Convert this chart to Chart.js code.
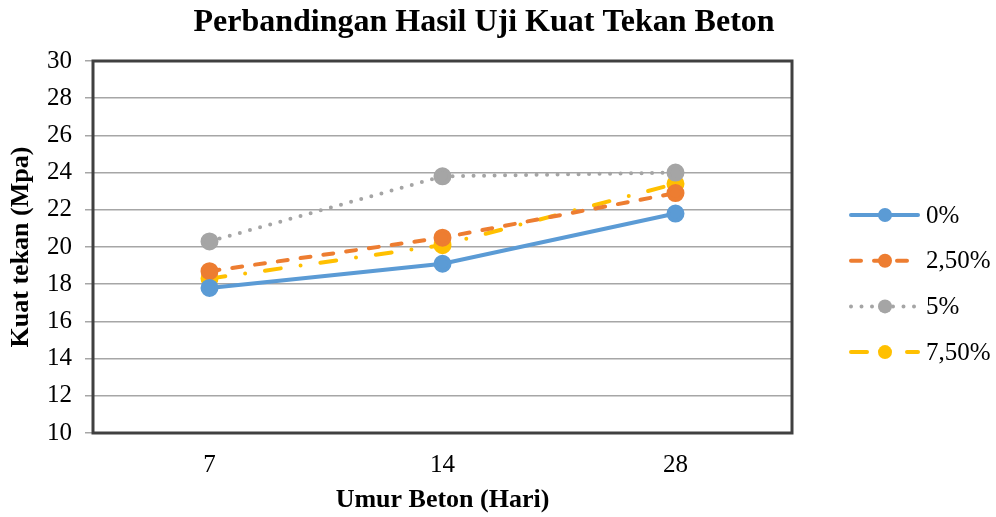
<!DOCTYPE html>
<html>
<head>
<meta charset="utf-8">
<script src="https://cdn.jsdelivr.net/npm/chart.js@4.4.0/dist/chart.umd.min.js"></script>
<style>
  html, body { margin: 0; padding: 0; background: #fff; }
  #wrap { width: 996px; height: 517px; }
</style>
</head>
<body>
<div id="wrap"><canvas id="chart" width="996" height="517"></canvas></div>
<script>
const umur = ["7", "14", "28"];
const seriesNames = ["0%", "2,50%", "5%", "7,50%"];
const kuat0 = [17.8, 19.1, 21.8];
const kuat25 = [18.7, 20.5, 22.9];
const kuat5 = [20.3, 23.8, 24.0];
const kuat75 = [18.3, 20.1, 23.4];
const yTicks = [10, 12, 14, 16, 18, 20, 22, 24, 26, 28, 30];

const serif = "'Liberation Serif', 'Times New Roman', serif";
const colors = ["#5b9bd5", "#ed7d31", "#a5a5a5", "#ffc000"];
const dashes = [[], [10, 13], [0, 10.5], [16, 20, 0, 20]];

function makeSet(label, data, i) {
    return {
        label,
        data,
        borderColor: colors[i],
        backgroundColor: colors[i],
        pointBackgroundColor: colors[i],
        pointBorderColor: colors[i],
        pointRadius: 7,
        pointHoverRadius: 7,
        borderWidth: 4,
        borderDash: dashes[i],
        borderCapStyle: "round",
        tension: 0
    };
}

// title, frame and legend drawn by hand
const decor = {
    id: "decor",
    afterDraw(chart) {
        const ctx = chart.ctx;
        const a = chart.chartArea;
        ctx.save();
        ctx.strokeStyle = "#404040";
        ctx.lineWidth = 3;
        ctx.strokeRect(a.left, a.top, a.right - a.left, a.bottom - a.top);

        ctx.fillStyle = "#000";
        ctx.font = "bold 32px " + serif;
        ctx.textAlign = "center";
        ctx.textBaseline = "middle";
        ctx.fillText("Perbandingan Hasil Uji Kuat Tekan Beton", 484, 23);

        chart.data.datasets.forEach((ds, i) => {
            const y = 215 + i * 45.7;
            ctx.strokeStyle = ds.borderColor;
            ctx.lineWidth = 4;
            ctx.lineCap = "round";
            ctx.setLineDash(ds.borderDash);
            ctx.beginPath();
            ctx.moveTo(851, y);
            ctx.lineTo(918, y);
            ctx.stroke();
            ctx.setLineDash([]);
            ctx.fillStyle = ds.borderColor;
            ctx.beginPath();
            ctx.arc(885, y, 7, 0, Math.PI * 2);
            ctx.fill();
            ctx.fillStyle = "#000";
            ctx.font = "25px " + serif;
            ctx.textAlign = "left";
            ctx.fillText(ds.label, 926, y + 1);
        });
        ctx.restore();
    }
};

new Chart(document.getElementById("chart"), {
    type: "line",
    data: {
        labels: umur,
        datasets: [
            makeSet(seriesNames[0], kuat0, 0),
            makeSet(seriesNames[1], kuat25, 1),
            makeSet(seriesNames[2], kuat5, 2),
            makeSet(seriesNames[3], kuat75, 3)
        ]
    },
    options: {
        responsive: false,
        animation: false,
        layout: { padding: { left: 0, right: 204, top: 61, bottom: 0 } },
        plugins: {
            legend: { display: false },
            title: { display: false },
            tooltip: { enabled: false }
        },
        scales: {
            x: {
                offset: true,
                grid: { display: false, drawTicks: false },
                border: { display: false },
                ticks: { color: "#000", font: { family: serif, size: 25 }, padding: 17 },
                title: {
                    display: true,
                    text: "Umur Beton (Hari)",
                    color: "#000",
                    font: { family: serif, size: 26, weight: "bold" },
                    padding: { top: 0, bottom: 1 }
                },
                afterFit(s) { s.height = 84; }
            },
            y: {
                min: 10,
                max: 30,
                afterBuildTicks(s) { s.ticks = yTicks.map(v => ({ value: v })); },
                grid: { color: "#a6a6a6", lineWidth: 1.5, tickLength: 8, tickColor: "#a6a6a6" },
                border: { display: false },
                ticks: { color: "#000", font: { family: serif, size: 25 }, padding: 13 },
                title: {
                    display: true,
                    text: "Kuat tekan (Mpa)",
                    color: "#000",
                    font: { family: serif, size: 26, weight: "bold" },
                    padding: { top: 6, bottom: 0 }
                },
                afterFit(s) { s.width = 93; }
            }
        }
    },
    plugins: [decor]
});
</script>
</body>
</html>
